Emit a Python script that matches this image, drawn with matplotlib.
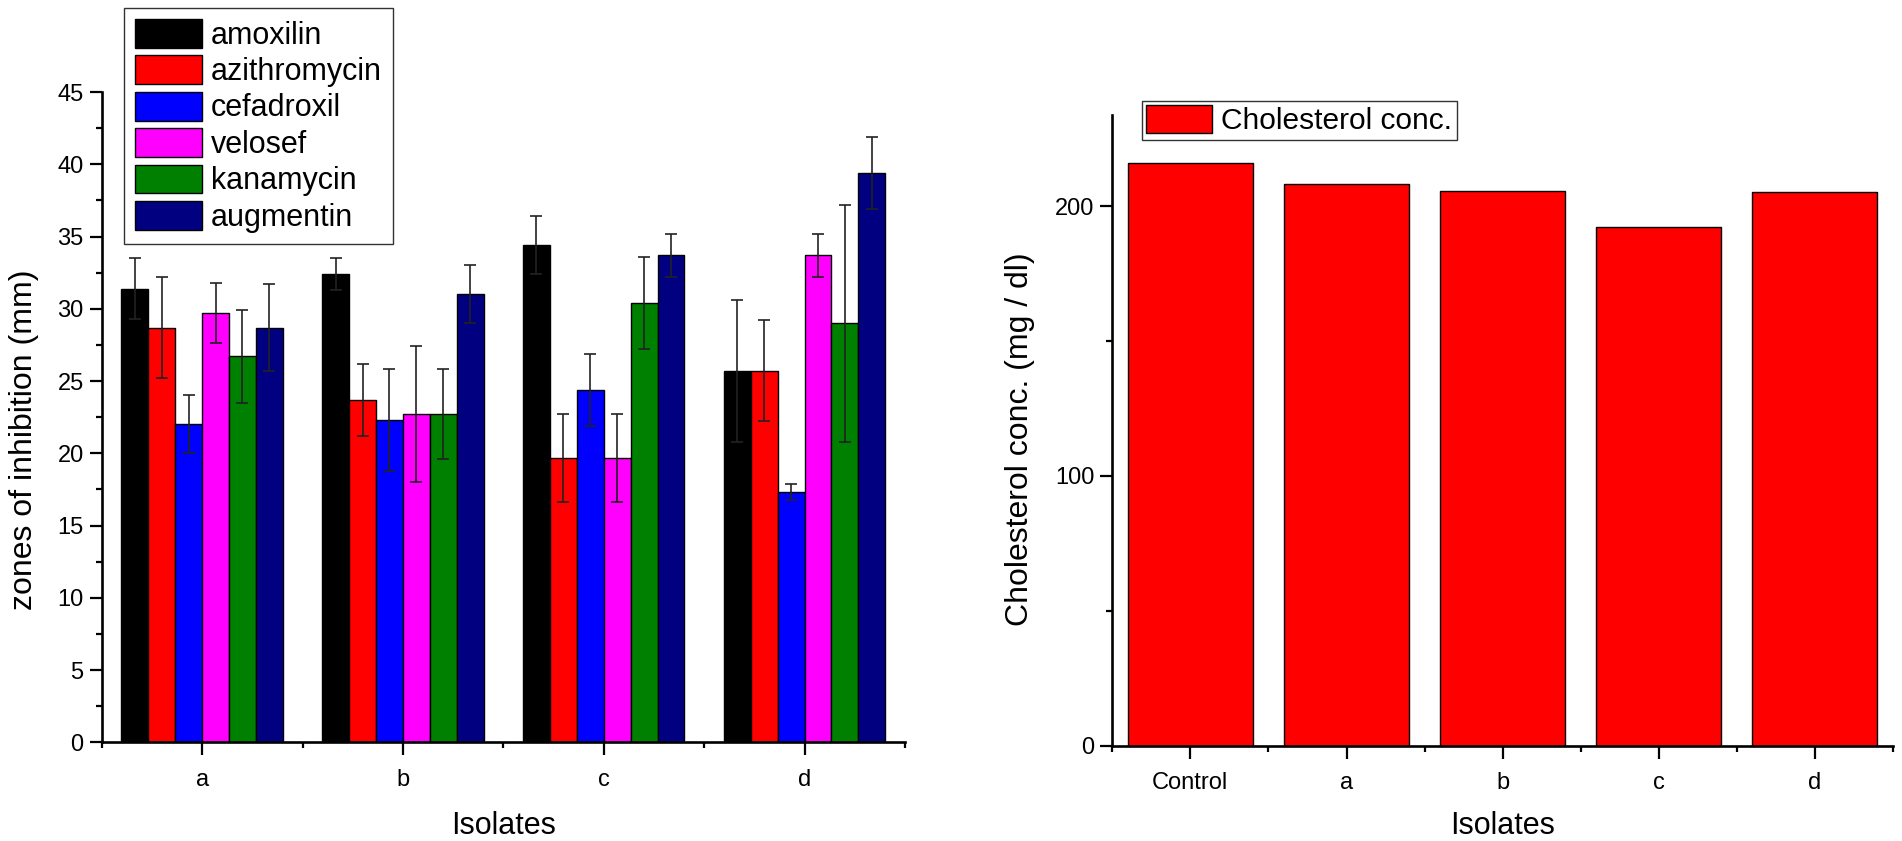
import numpy as np
import matplotlib
matplotlib.use("Agg")
import matplotlib.pyplot as plt
from matplotlib.ticker import MultipleLocator, FixedLocator

plt.rcParams['font.family'] = ['Liberation Sans', 'DejaVu Sans']

# zones of inhibition (mm), isolates a-d
isolates = ['a', 'b', 'c', 'd']
drugs = ['amoxilin', 'azithromycin', 'cefadroxil', 'velosef', 'kanamycin', 'augmentin']
amoxilin = [31.4, 32.4, 34.4, 25.7]
amoxilin_err = [2.1, 1.1, 2.0, 4.9]
azithromycin = [28.7, 23.7, 19.7, 25.7]
azithromycin_err = [3.5, 2.5, 3.05, 3.5]
cefadroxil = [22.0, 22.3, 24.4, 17.3]
cefadroxil_err = [2.0, 3.5, 2.5, 0.55]
velosef = [29.7, 22.7, 19.7, 33.7]
velosef_err = [2.05, 4.7, 3.05, 1.5]
kanamycin = [26.7, 22.7, 30.4, 29.0]
kanamycin_err = [3.2, 3.1, 3.2, 8.2]
augmentin = [28.7, 31.0, 33.7, 39.4]
augmentin_err = [3.0, 2.0, 1.5, 2.5]

# cholesterol conc. (mg / dl)
chol_groups = ['Control', 'a', 'b', 'c', 'd']
chol_values = [216.1, 208.1, 205.6, 192.3, 205.3]

colors = ['#000000', '#ff0000', '#0000ff', '#ff00ff', '#008000', '#000080']
series = [amoxilin, azithromycin, cefadroxil, velosef, kanamycin, augmentin]
errors = [amoxilin_err, azithromycin_err, cefadroxil_err, velosef_err, kanamycin_err, augmentin_err]

fig = plt.figure(figsize=(19.02, 8.41), dpi=100)
ax1 = fig.add_axes([101.7 / 1902, 1 - 742.3 / 841, 803.3 / 1902, 650.3 / 841])
ax2 = fig.add_axes([1112.3 / 1902, 1 - 745.5 / 841, 780.7 / 1902, 630.5 / 841])


def style_axis(ax):
    for s in ['top', 'right']:
        ax.spines[s].set_visible(False)
    for s in ['left', 'bottom']:
        ax.spines[s].set_linewidth(1.9)
    ax.tick_params(which='major', direction='out', length=9, width=1.6, labelsize=17, pad=4)
    ax.tick_params(which='minor', direction='out', length=4.5, width=1.6)
    ax.tick_params(axis='x', which='major', pad=10)


# left chart
x = np.arange(1, len(isolates) + 1)
w = 0.134
for i, (vals, errs) in enumerate(zip(series, errors)):
    ax1.bar(x + (i - 2.5) * w, vals, w, color=colors[i], edgecolor='black', linewidth=1.0,
            label=drugs[i], yerr=errs, capsize=4.3,
            error_kw=dict(ecolor='#222222', elinewidth=1.2, capthick=1.2))
ax1.set_xlim(0.5, 4.5)
ax1.set_ylim(0, 45)
ax1.set_xticks(x)
ax1.set_xticklabels(isolates)
ax1.xaxis.set_minor_locator(FixedLocator(np.arange(0.5, 4.6, 1.0)))
ax1.yaxis.set_major_locator(MultipleLocator(5))
ax1.yaxis.set_minor_locator(MultipleLocator(2.5))
style_axis(ax1)
ax1.set_ylabel('zones of inhibition (mm)', fontsize=23)
ax1.yaxis.set_label_coords(-0.078, 0.466)
ax1.set_xlabel('Isolates', fontsize=22)
ax1.xaxis.set_label_coords(0.5, -0.105)
leg1 = ax1.legend(loc='upper left', bbox_to_anchor=(124 / 1902, 1 - 8 / 841),
                  bbox_transform=fig.transFigure, fontsize=22, frameon=True, fancybox=False,
                  borderpad=0.35, handlelength=2.2, handleheight=1.08, labelspacing=0.15,
                  handletextpad=0.3, borderaxespad=0)
leg1.get_frame().set_edgecolor('black')
leg1.get_frame().set_linewidth(1.0)

# right chart
x2 = np.arange(1, len(chol_groups) + 1)
ax2.bar(x2, chol_values, 0.8, color='#ff0000', edgecolor='black', linewidth=1.0,
        label='Cholesterol conc.')
ax2.set_xlim(0.5, 5.5)
ax2.set_ylim(0, 233.8)
ax2.set_xticks(x2)
ax2.set_xticklabels(chol_groups)
ax2.xaxis.set_minor_locator(FixedLocator(np.arange(0.5, 5.6, 1.0)))
ax2.yaxis.set_major_locator(MultipleLocator(100))
ax2.yaxis.set_minor_locator(MultipleLocator(50))
style_axis(ax2)
ax2.set_ylabel('Cholesterol conc. (mg / dl)', fontsize=23)
ax2.yaxis.set_label_coords(-0.099, 0.486)
ax2.set_xlabel('Isolates', fontsize=22)
ax2.xaxis.set_label_coords(0.5, -0.104)
leg2 = ax2.legend(loc='upper left', bbox_to_anchor=(1142 / 1902, 1 - 100.7 / 841),
                  bbox_transform=fig.transFigure, fontsize=21.5, frameon=True, fancybox=False,
                  borderpad=0.15, handlelength=2.2, handleheight=1.07,
                  handletextpad=0.3, borderaxespad=0)
leg2.get_frame().set_edgecolor('black')
leg2.get_frame().set_linewidth(1.0)

fig.savefig('out.png', dpi=100)
